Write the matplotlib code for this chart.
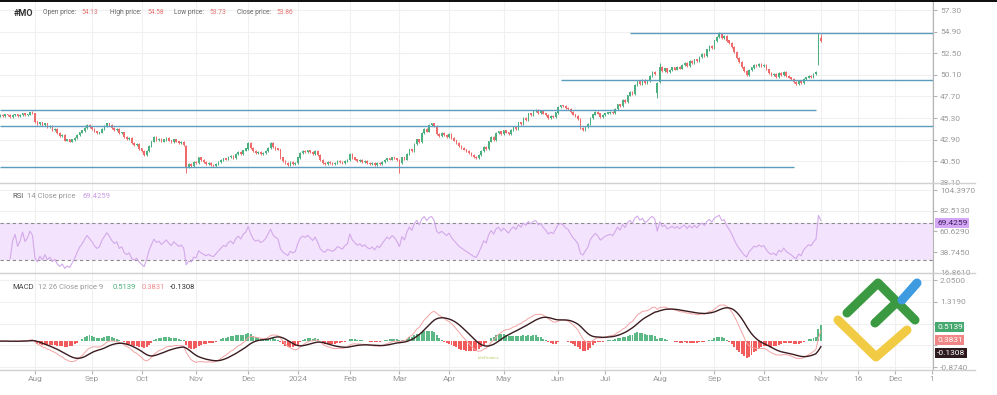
import matplotlib
matplotlib.use("Agg")
import matplotlib.pyplot as plt
from matplotlib.lines import Line2D
from matplotlib.patches import Rectangle
import numpy as np
import pandas as pd

plt.rcParams["font.family"] = ["Roboto", "DejaVu Sans"]

# daily closes, MO, mid Jul 2023 -> 1 Nov 2024
close = [
    45.6, 45.5, 45.7, 45.6, 45.4, 45.6, 45.7, 45.5, 45.6, 45.8, 45.6, 45.7, 45.9, 45.8,
    44.9, 44.6, 44.8, 44.5, 44.7, 44.3, 44.4, 44.0, 44.1, 43.6,
    43.3, 43.4, 42.8, 42.9, 42.7, 42.9, 43.1,
    43.4, 43.7, 43.9, 44.2, 44.5, 44.3, 44.1, 43.8,
    43.6, 43.7, 44.1, 44.4, 44.7, 44.5,
    44.2, 44.0, 44.1, 43.6, 43.7, 43.2, 43.0, 43.1, 42.5, 42.3, 42.4, 41.9, 41.6, 41.2,
    41.6, 42.2, 42.7, 43.2, 42.9,
    43.0, 42.7, 42.9, 43.1, 42.8, 42.6, 42.9, 42.7, 42.5, 42.6,
    42.3, 39.9, 40.2, 40.0, 40.4, 40.3, 40.9,
    40.6, 40.4, 40.2, 40.3, 40.1, 40.0, 40.2, 40.4,
    40.6, 40.8, 40.7, 41.0, 41.1, 40.9, 41.3, 41.5, 41.3, 41.7, 41.9,
    42.5,
    42.0, 41.6, 41.4, 41.5, 41.3, 41.4, 41.6,
    42.0, 42.5, 42.1, 41.9, 41.8,
    40.9, 40.5, 40.3, 40.1, 40.4, 40.2, 40.3,
    40.9, 41.4, 41.6, 41.5, 41.7, 41.5, 41.3, 41.6, 41.2,
    40.6, 40.3, 40.2, 40.4, 40.3, 40.2,
    40.3, 40.5, 40.4, 40.3, 40.5, 40.6,
    41.3,
    40.9, 40.7, 40.5, 40.6, 40.4, 40.5, 40.3,
    40.2, 40.3, 40.1, 40.3, 40.2,
    40.4, 40.6, 40.8, 40.7, 40.9, 40.8, 40.6,
    40.3, 40.9, 40.7, 41.3, 41.8, 41.6, 42.4, 42.9, 42.6, 43.6, 44.1, 43.8, 44.5, 44.7, 44.4,
    43.5, 43.3, 43.6, 43.4, 43.2, 43.5, 43.1,
    42.8, 42.5, 42.2, 42.0, 41.8, 41.6, 41.4, 41.2, 41.0, 40.9, 41.2,
    41.6, 42.1, 41.9, 42.7, 43.2, 42.9, 43.6, 43.8, 43.5, 43.9, 43.7, 43.5, 44.0,
    44.3, 44.1, 44.8, 44.6, 45.3, 45.1, 45.8, 45.6, 46.1, 46.2, 45.9, 46.1,
    45.8, 45.6, 45.3, 45.5, 45.4, 45.9,
    46.5, 46.7, 46.6, 46.4, 46.3,
    46.0, 45.7, 45.5, 45.2,
    44.2, 44.0, 44.3, 44.6,
    45.3, 45.7, 46.0, 45.8, 45.4, 45.6,
    45.8, 45.9, 46.0, 45.9,
    46.3, 46.8, 46.6, 47.3, 47.1, 47.8, 48.2,
    48.0, 49.0, 49.4, 49.1, 49.5, 49.2, 49.4,
    50.0, 50.4, 50.2, 49.2,
    51.0,
    50.5, 50.8, 50.4, 50.6, 50.9, 50.7, 51.0, 50.8,
    51.2, 51.4, 51.1, 51.6, 51.4, 51.8, 51.6, 52.1,
    52.4, 52.2, 52.9, 53.3, 53.1, 53.9, 54.3,
    54.6,
    54.2, 54.4, 53.9, 53.6, 53.2,
    52.6, 52.0, 51.5, 51.0, 50.5,
    50.1,
    50.6, 50.9, 51.2, 51.1, 51.3, 51.1, 51.2,
    50.7, 50.3, 50.1, 50.2, 49.9,
    50.3, 50.1, 50.4, 50.0,
    49.8, 49.6, 49.3, 49.1, 49.4, 49.2,
    49.6, 49.8, 50.0, 49.9, 50.2, 50.4,
    54.4,
    53.86,
]

# bars where open/high/low differ from the plain "open = prior close" candle
open_fix = {0: 45.5, 75: 42.2, 161: 40.6, 265: 48.1, 266: 49.3, 330: 51.3, 331: 54.13}
high_fix = {13: 46.1, 75: 42.3, 265: 49.3, 266: 51.4, 290: 54.85, 330: 54.8, 331: 54.58}
low_fix = {75: 39.2, 161: 39.2, 265: 47.5, 330: 51.2, 331: 53.73}

# horizontal levels drawn on the price panel
levels = [54.78, 49.52, 46.19, 44.41, 39.86]
level_from = [254, 226, 0, 0, 0]
level_to = [376, 376, 329, 376, 320]

month_pos = [14, 37, 57, 79, 100, 120, 141, 161, 181, 203, 225, 244, 266, 288, 308, 331, 346, 361, 375.8]
month_lbl = ["Aug", "Sep", "Oct", "Nov", "Dec", "2024", "Feb", "Mar", "Apr", "May", "Jun",
             "Jul", "Aug", "Sep", "Oct", "Nov", "16", "Dec", "1"]

price_ticks = [57.30, 54.90, 52.50, 50.10, 47.70, 45.30, 42.90, 40.50, 38.10]
rsi_ticks = [104.3970, 82.5130, 60.6290, 38.7450, 16.8610]
macd_ticks = [2.0500, 1.3190, 0.5880, -0.1430, -0.8740]

UP = "#4caf80"
DOWN = "#ef6b6b"
LEVEL = "#5c9dbd"
GRID = "#f0f0f0"
TXT = "#9a9a9a"
DARK = "#333333"
SEP = "#d0d0d0"

W, H = 997, 395
fig = plt.figure(figsize=(W / 100, H / 100), dpi=100)


def ax_px(left, top, right, bottom):
    return fig.add_axes([left / W, 1 - bottom / H, (right - left) / W, (bottom - top) / H])


def ftext(x, y, s, **kw):
    kw.setdefault("va", "center")
    return fig.text(x / W, 1 - y / H, s, **kw)


n = len(close)
x = np.arange(n)
c = np.array(close)
o = np.r_[c[0], c[:-1]]
for k, v in open_fix.items():
    o[k] = v
hi = np.maximum(o, c) + 0.1
lo = np.minimum(o, c) - 0.1
for k, v in high_fix.items():
    hi[k] = v
for k, v in low_fix.items():
    lo[k] = v

s = pd.Series(c)
d = s.diff()
up = d.clip(lower=0).ewm(alpha=1 / 14, min_periods=4).mean()
dn = (-d.clip(upper=0)).ewm(alpha=1 / 14, min_periods=4).mean()
rsi = 100 - 100 / (1 + up / dn)
macd = s.ewm(span=12, adjust=False).mean() - s.ewm(span=26, adjust=False).mean()
signal = macd.ewm(span=9, adjust=False).mean()
hist = macd - signal

ax_p = ax_px(0, 2, 933, 183)
ax_r = ax_px(0, 183, 933, 273)
ax_m = ax_px(0, 273, 933, 370)

for ax in (ax_p, ax_r, ax_m):
    ax.set_xlim(-0.1, 376.2)
    ax.set_xticks(month_pos)
    ax.grid(True, color=GRID, linewidth=0.8)
    ax.set_axisbelow(True)
    for side in ("top", "left", "bottom"):
        ax.spines[side].set_visible(False)
    ax.spines["right"].set_color("#b5b5b5")
    ax.spines["right"].set_linewidth(0.8)
    ax.yaxis.tick_right()
    ax.tick_params(axis="y", labelsize=6, colors="#b5b5b5", labelcolor=TXT, length=3, pad=2)
    ax.tick_params(axis="x", length=0, labelbottom=False)

# price panel
colors = np.where(c >= o, UP, DOWN)
ax_p.vlines(x, lo, hi, colors=colors, linewidth=0.7)
ax_p.bar(x, np.abs(c - o) + 0.04, bottom=np.minimum(o, c) - 0.02, width=0.65, color=colors, linewidth=0)
for lv, a, b in zip(levels, level_from, level_to):
    ax_p.hlines(lv, a, b, color=LEVEL, linewidth=1)
ax_p.set_ylim(38.08, 58.19)
ax_p.set_yticks(price_ticks)
ax_p.set_yticklabels([f"{t:.2f}" for t in price_ticks])

# RSI panel
ax_r.axhspan(30, 70, color="#f3e3fc", linewidth=0)
ax_r.axhline(70, color="#8c8c8c", linewidth=0.8, dashes=(3, 2.5))
ax_r.axhline(30, color="#8c8c8c", linewidth=0.8, dashes=(3, 2.5))
ax_r.plot(x, rsi, color="#d3a9ea", linewidth=0.8)
ax_r.set_ylim(16.5, 112.0)
ax_r.set_yticks(rsi_ticks)
ax_r.set_yticklabels([f"{t:.4f}" for t in rsi_ticks])

# MACD panel
hcol = np.where(hist >= 0, "#5cb885", "#f25b5b")
ax_m.bar(x, hist, width=0.8, color=hcol, linewidth=0)
ax_m.plot(x, macd, color="#f2a3a3", linewidth=0.7)
ax_m.plot(x, signal, color="#3a1c20", linewidth=1.0)
ax_m.set_ylim(-0.97, 2.285)
ax_m.set_yticks(macd_ticks)
ax_m.set_yticklabels(["2.0500", "1.3190", "", "", "-0.8740"])
ax_m.tick_params(axis="x", labelbottom=True, labelsize=6, labelcolor=TXT, length=3,
                 colors="#b5b5b5", pad=1)
ax_m.set_xticklabels(month_lbl)

# frame lines
fig.add_artist(Rectangle((0, 1 - 2 / H), 1, 2 / H, transform=fig.transFigure, color="#111111", linewidth=0))
for yy in (183, 273, 370):
    fig.add_artist(Line2D([0, 975 / W], [1 - yy / H] * 2, transform=fig.transFigure, color=SEP, linewidth=1))

# header
ftext(14, 13, "#MO", fontsize=6.5, fontweight="bold", color=DARK)
for lab, lx, val, vx in [("Open price:", 43, "54.13", 81), ("High price:", 110, "54.58", 147),
                         ("Low price:", 174, "53.73", 209), ("Close price:", 237, "53.86", 276)]:
    ftext(lx, 13, lab, fontsize=4.8, color="#666666")
    ftext(vx, 13, val, fontsize=4.8, color="#e57373")

ftext(12, 196, "RSI", fontsize=5.5, color="#555555")
ftext(27, 196, "14 Close price", fontsize=5.5, color=TXT)
ftext(82, 196, "69.4259", fontsize=5.5, color="#c99be3")

ftext(12, 287, "MACD", fontsize=5.5, color="#444444")
ftext(38, 287, "12 26 Close price 9", fontsize=5.5, color=TXT)
ftext(113, 287, "0.5139", fontsize=5.5, color="#4caf7a")
ftext(142, 287, "0.3831", fontsize=5.5, color="#f08a8a")
ftext(170, 287, "-0.1308", fontsize=5.5, color=DARK)

# last value boxes on the right scale
for txt, yy, bg, fg in [("69.4259", 223, "#d4a6f4", "#3b1f5e"), ("0.5139", 327, "#45a86f", "white"),
                        ("0.3831", 340, "#f08585", "white"), ("-0.1308", 353, "#2e1a1e", "white")]:
    ftext(937, yy, txt, fontsize=6, color=fg,
          bbox=dict(boxstyle="square,pad=0.2", facecolor=bg, edgecolor="none"))

# logo
for pts, col in [([(838, 320), (876, 357), (907, 330)], "#f2cb45"),
                 ([(847, 313), (878, 283), (915, 320)], "#3b9a41"),
                 ([(875, 323), (897, 302)], "#3b9a41"),
                 ([(902, 300), (917, 283)], "#3f9be0")]:
    xs = [p[0] / W for p in pts]
    ys = [1 - p[1] / H for p in pts]
    fig.add_artist(Line2D(xs, ys, transform=fig.transFigure, color=col, linewidth=6.5,
                          solid_capstyle="round", solid_joinstyle="round"))
ftext(478, 358, "LiteFinance", fontsize=3.2, color="#b9cf6e", style="italic")

fig.savefig("out.png", dpi=100, facecolor="white")
